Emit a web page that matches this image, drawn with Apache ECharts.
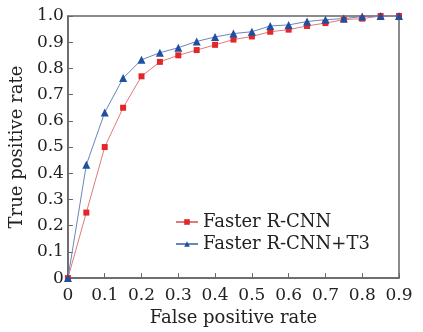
<!DOCTYPE html>
<html><head><meta charset="utf-8">
<script src="https://cdn.jsdelivr.net/npm/echarts@6/dist/echarts.min.js"></script>
<style>html,body{margin:0;padding:0;background:#fff}#c{width:423px;height:332px}</style>
</head><body><div id="c"></div>
<script>
var fpr = [0,0.05,0.1,0.15,0.2,0.25,0.3,0.35,0.4,0.45,0.5,0.55,0.6,0.65,0.7,0.75,0.8,0.85,0.9];
var tprFaster = [0,0.25,0.5,0.65,0.77,0.825,0.85,0.87,0.89,0.91,0.922,0.94,0.948,0.962,0.973,0.986,0.99,1.0,1.0];
var tprT3 = [0,0.432,0.632,0.763,0.833,0.86,0.879,0.903,0.92,0.933,0.94,0.962,0.966,0.979,0.986,0.99,0.998,1.0,1.0];
var seriesNames = ['Faster R-CNN','Faster R-CNN+T3'];
function pairs(ys){return fpr.map(function(x,i){return [x,ys[i]];});}
var font = 'DejaVu Serif';
var chart = echarts.init(document.getElementById('c'));
chart.setOption({
  animation:false,
  grid:{left:67,right:24,top:16,bottom:49,show:true,borderColor:'#666',borderWidth:1.5,backgroundColor:'transparent'},
  legend:{
    left:170, top:208, orient:'vertical', itemGap:4, itemWidth:22, itemHeight:7,
    textStyle:{fontFamily:font,fontSize:18,color:'#222',lineHeight:18},
    data:[
      {name:seriesNames[0],itemStyle:{color:'#e3262c'}},
      {name:seriesNames[1],itemStyle:{color:'#1f4f9e'}}
    ]
  },
  xAxis:{
    type:'value',min:0,max:0.9,interval:0.1,
    name:'False positive rate',nameLocation:'middle',nameGap:29,
    nameTextStyle:{fontFamily:font,fontSize:18,color:'#222'},
    axisLine:{lineStyle:{color:'#666',width:1.5}},
    axisTick:{inside:true,length:5,lineStyle:{color:'#666'}},
    axisLabel:{fontFamily:font,fontSize:17,color:'#222',margin:9,formatter:function(v){return v===0?'0':v.toFixed(1);}},
    splitLine:{show:false}
  },
  yAxis:{
    type:'value',min:0,max:1.0,interval:0.1,
    name:'True positive rate',nameLocation:'middle',nameGap:33,
    nameTextStyle:{fontFamily:font,fontSize:18,color:'#222'},
    axisLine:{lineStyle:{color:'#666',width:1.5}},
    axisTick:{inside:true,length:5,lineStyle:{color:'#666'}},
    axisLabel:{fontFamily:font,fontSize:17,color:'#222',margin:4,formatter:function(v){return v===0?'0':v.toFixed(1);}},
    splitLine:{show:false}
  },
  series:[
    {name:seriesNames[0],type:'line',data:pairs(tprFaster),symbol:'rect',symbolSize:6,
     lineStyle:{color:'#e07a7a',width:1},itemStyle:{color:'#e3262c'}},
    {name:seriesNames[1],type:'line',data:pairs(tprT3),symbol:'triangle',symbolSize:8,
     lineStyle:{color:'#6a86b8',width:1},itemStyle:{color:'#1f4f9e'}}
  ]
});
</script></body></html>
